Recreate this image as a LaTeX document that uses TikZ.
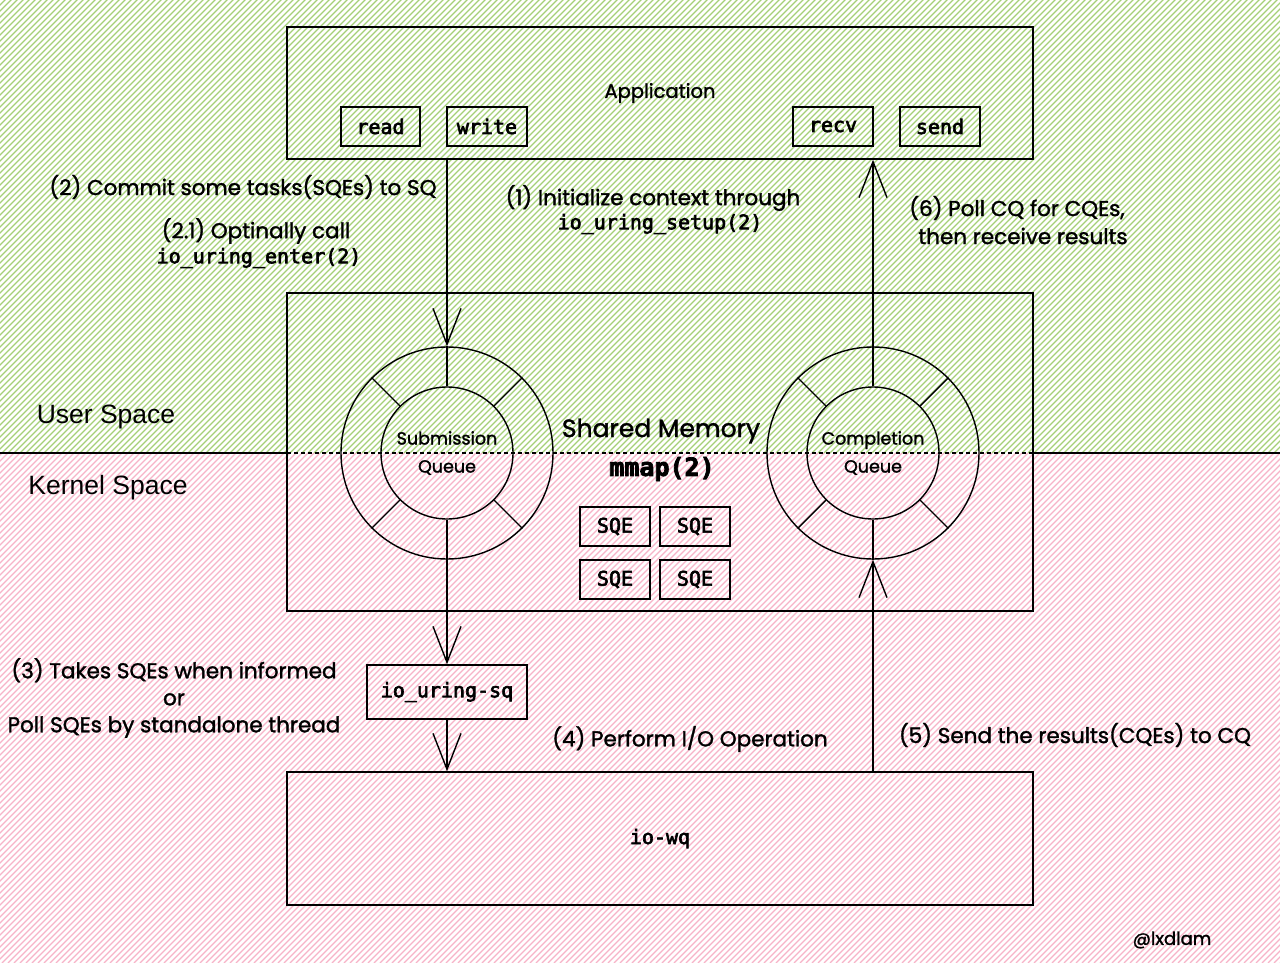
\documentclass[tikz,border=0pt]{standalone}
\usepackage{fontspec}
\usetikzlibrary{arrows.meta}
\newfontfamily\hwfont{Poppins}[FakeBold=1.5]
\newfontfamily\monofont{DejaVu Sans Mono}[FakeBold=3]
\newfontfamily\helvfont{Liberation Sans}
\definecolor{hatchG}{RGB}{165,208,120}
\definecolor{hatchP}{RGB}{247,180,200}
\tikzset{
  ln/.style={line width=1.4pt, black},
  box/.style={draw, ln, inner sep=0pt, font=\monofont\fontsize{20}{24}\selectfont},
  hw/.style={inner sep=0pt, align=center, font=\hwfont\fontsize{21.5}{27}\selectfont},
  mono/.style={inner sep=0pt, align=center, font=\monofont\fontsize{20}{24}\selectfont},
  ring/.style={circle, draw, ln, inner sep=0pt},
  arr/.style={ln, -{Straight Barb[length=36pt,width=28pt,line width=1.4pt]}},
  space/.style={inner sep=0pt, font=\helvfont\fontsize{26.5}{30}\selectfont},
}
\begin{document}
\begin{tikzpicture}[x=1pt,y=-1pt]
\useasboundingbox (0,0) rectangle (1280,963);
\fill[white] (0,0) rectangle (1280,963);
% hatching
\begin{scope}
\clip (0,0) rectangle (1280,453);
\foreach \i in {-460,-454,...,1290} \draw[hatchG, line width=1.2pt] (\i,453) -- ++(470,-470);
\end{scope}
\begin{scope}
\clip (0,453) rectangle (1280,963);
\foreach \i in {-520,-514,...,1290} \draw[hatchP, line width=1.2pt] (\i,963) -- ++(520,-520);
\end{scope}

% divider
\draw[ln] (0,453) -- (287,453);
\draw[ln, line width=1.1pt, dash pattern=on 4pt off 3pt] (287,453) -- (1033,453);
\draw[ln] (1033,453) -- (1280,453);

% application
\node[box, minimum width=746pt, minimum height=132pt, font=\hwfont\fontsize{19.5}{24}\selectfont] (app) at (660,93) {Application};
\node[box, minimum width=79pt, minimum height=39pt] (read) at (380.5,126.5) {read};
\node[box, minimum width=80pt, minimum height=39pt] (write) at (487,126.5) {write};
\node[box, minimum width=80pt, minimum height=39pt] (recv) at (833,126.5) {recv};
\node[box, minimum width=80pt, minimum height=39pt] (send) at (940,126.5) {send};

% shared memory
\node[box, minimum width=746pt, minimum height=318pt] (mem) at (660,452) {};
\node[ring, minimum size=212pt] (sqo) at (447,453) {};
\node[ring, minimum size=132pt, font=\hwfont\fontsize{17.5}{28}\selectfont, align=center] (sqi) at (447,453) {Submission\\Queue};
\node[ring, minimum size=212pt] (cqo) at (873,453) {};
\node[ring, minimum size=132pt, font=\hwfont\fontsize{17.5}{28}\selectfont, align=center] (cqi) at (873,453) {Completion\\Queue};
\foreach \a in {45,135,225,315} {
  \draw[ln] (sqi.\a) -- (sqo.\a);
  \draw[ln] (cqi.\a) -- (cqo.\a);
}
\draw[ln] (sqi.north) -- (sqo.north);
\draw[ln] (cqi.south) -- (cqo.south);

\node[hw, font=\hwfont\fontsize{25}{30}\selectfont] (shm) at (661,431) {Shared Memory};
\node[mono, font=\monofont\bfseries\fontsize{25}{30}\selectfont] (mmap) at (662,469) {mmap(2)};
\node[box, minimum width=70pt, minimum height=39pt] (sqe1) at (615,526.5) {SQE};
\node[box, minimum width=70pt, minimum height=39pt] (sqe2) at (695,526.5) {SQE};
\node[box, minimum width=70pt, minimum height=39pt] (sqe3) at (615,579.5) {SQE};
\node[box, minimum width=70pt, minimum height=39pt] (sqe4) at (695,579.5) {SQE};

% kernel side
\node[box, minimum width=160pt, minimum height=54pt] (iosq) at (447,692) {io\_uring-sq};
\node[box, minimum width=746pt, minimum height=133pt] (iowq) at (660,838.5) {io-wq};

% arrows
\draw[arr] (app.south -| sqo) -- (sqo.north);
\draw[arr] (sqi.south) -- (iosq.north);
\draw[arr] (iosq.south) -- (iowq.north -| iosq);
\draw[arr] (iowq.north -| cqo) -- (cqo.south);
\draw[arr] (cqi.north) -- (app.south -| cqi);

% labels
\node[space] (us) at (106,417) {User Space};
\node[space] (ks) at (108,488) {Kernel Space};
\node[hw] (l2) at (243,187) {(2) Commit some tasks(SQEs) to SQ};
\node[hw] (l21) at (256,231) {(2.1) Optinally call};
\node[mono] (l21b) at (259,258) {io\_uring\_enter(2)};
\node[hw] (l1) at (653,198) {(1) Initialize context through};
\node[mono] (l1b) at (660,224) {io\_uring\_setup(2)};
\node[hw] (l6) at (1017,208) {(6) Poll CQ for CQEs,};
\node[hw] (l6b) at (1023,236) {then receive results};
\node[hw] (l3) at (174,698) {(3) Takes SQEs when informed\\or\\Poll SQEs by standalone thread};
\node[hw] (l4) at (690,739) {(4) Perform I/O Operation};
\node[hw] (l5) at (1075,735) {(5) Send the results(CQEs) to CQ};
\node[hw, font=\hwfont\fontsize{18}{20}\selectfont] (sig) at (1172,940) {@lxdlam};
\end{tikzpicture}
\end{document}
